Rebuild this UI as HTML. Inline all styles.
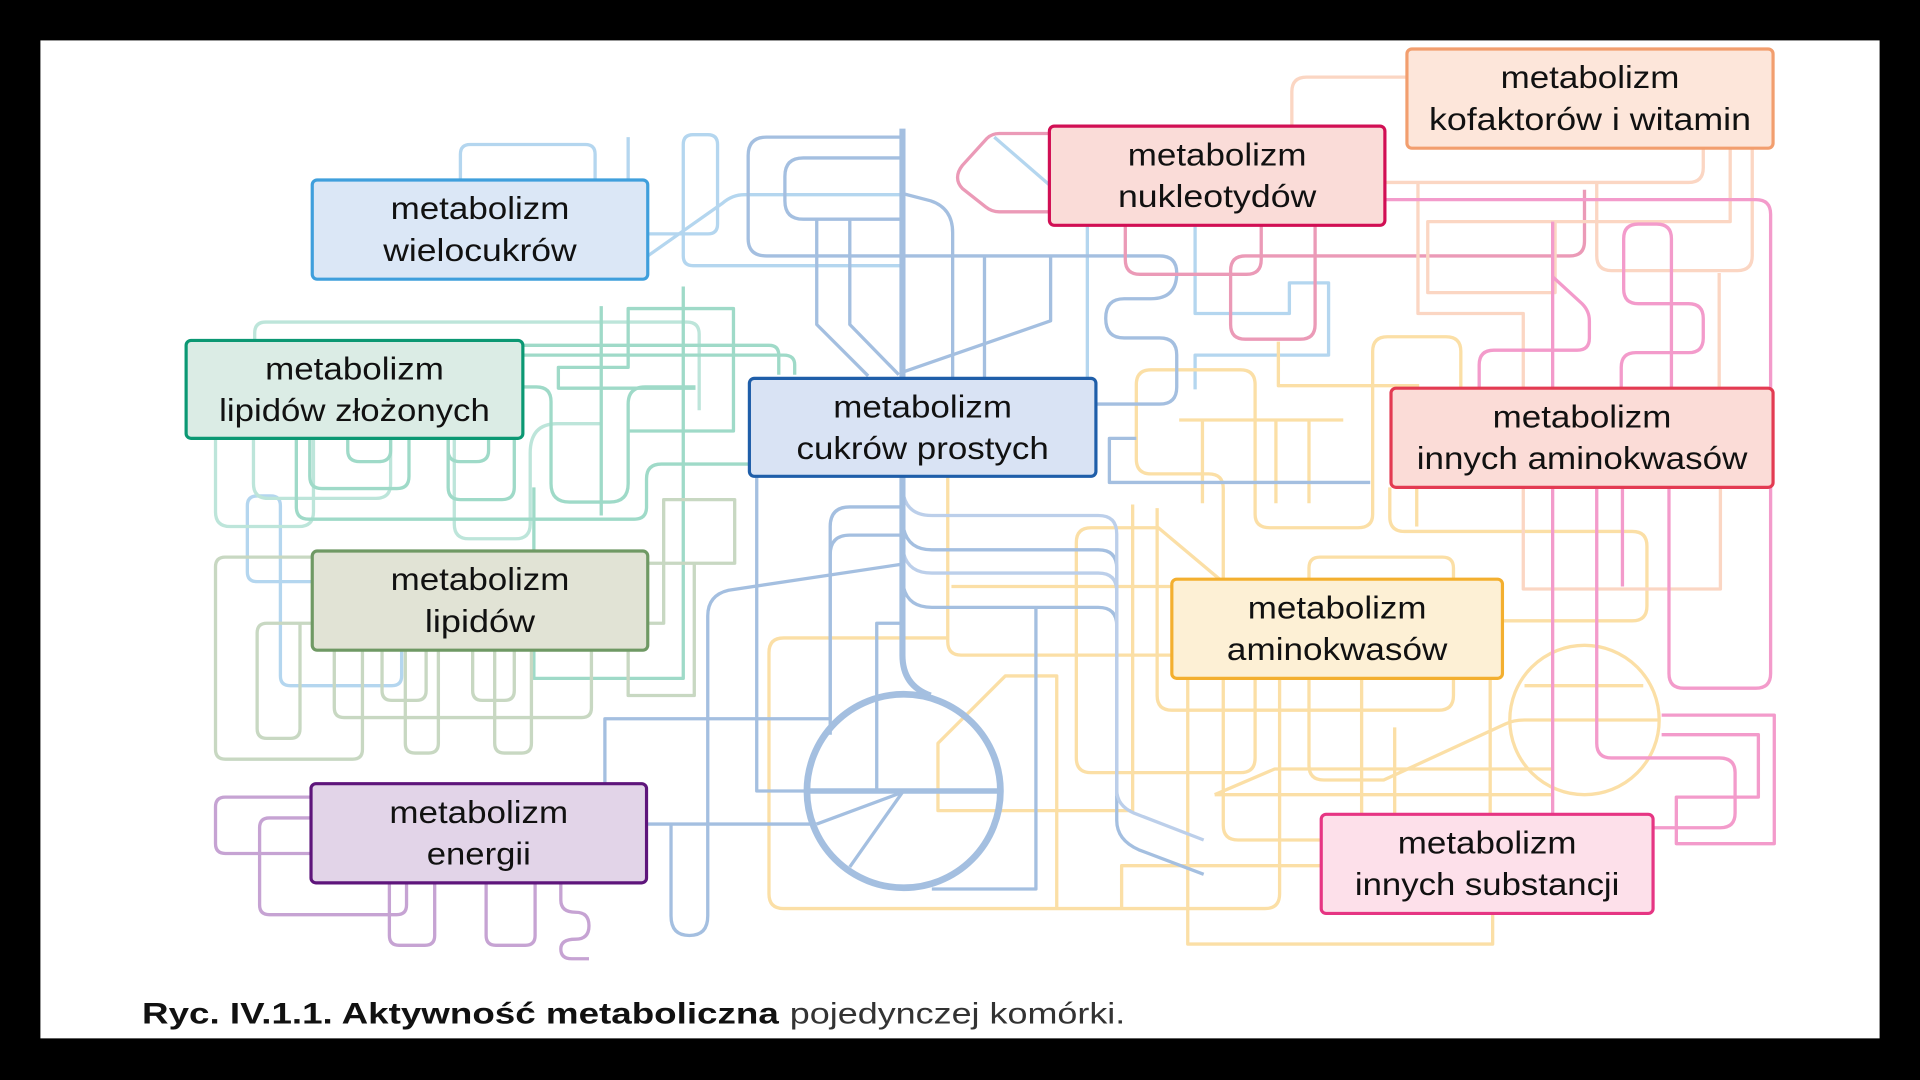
<!DOCTYPE html>
<html>
<head>
<meta charset="utf-8">
<style>
  html, body { margin: 0; padding: 0; background: #000; }
  svg { display: block; }
  .t { font-family: "Liberation Sans", "DejaVu Sans", sans-serif; font-size: 25.5px; fill: #111; }
  .ln { fill: none; stroke-width: 2.7; stroke-linejoin: round; stroke-linecap: butt; }
</style>
</head>
<body>
<svg width="1920" height="1080" viewBox="0 0 1568 882" xmlns="http://www.w3.org/2000/svg">
  <rect x="0" y="0" width="1568" height="882" fill="#000"/>
  <rect x="33" y="33" width="1502" height="815" fill="#fff"/>

  <!-- Light blue (wielocukrow) -->
  <g class="ln" stroke="#b4d6ef">
    <path d="M376,147 V126 Q376,118 384,118 H478 Q486,118 486,126 V147"/>
    <path d="M513,112 V147"/>
    <path d="M529,191 H578 Q586,191 586,183 V118 Q586,110 578,110 H566 Q558,110 558,118 V209 Q558,217 566,217 H737"/>
    <path d="M529,209 L590,166 Q598,159 608,159 H737"/>
    <path d="M812,112 L857,151"/>
    <path d="M888,184 V309"/>
    <path d="M976,184 V256 H1053 V231 H1085 V290 H976 V318"/>
    <path d="M255,475 H210 Q202,475 202,467 V413 Q202,405 210,405 H221 Q229,405 229,413 V552 Q229,560 237,560 H320 Q328,560 328,552 V531"/>
  </g>

  <!-- Teal light (lipidy zlozone) -->
  <g class="ln" stroke="#bde5da">
    <path d="M208,278 V272 Q208,263 217,263 H561 Q571,263 571,273 V335"/>
    <path d="M176,358 V418 Q176,430 188,430 H244 Q256,430 256,418 V358"/>
    <path d="M207,358 V395 Q207,407 219,407 H307 Q319,407 319,395 V358"/>
    <path d="M371,358 V428 Q371,440 383,440 H421 Q433,440 433,428 V370 Q433,346 455,346 H490"/>
  </g>
  <!-- Teal medium -->
  <g class="ln" stroke="#9fdac8">
    <path d="M242,358 V414 Q242,424 252,424 H518 Q528,424 528,414 V391 Q528,379 540,379 H612"/>
    <path d="M253,358 V389 Q253,399 263,399 H324 Q334,399 334,389 V358"/>
    <path d="M284,358 V368 Q284,377 294,377 H309 Q319,377 319,368 V358"/>
    <path d="M366,358 V368 Q366,377 376,377 H389 Q399,377 399,368 V358"/>
    <path d="M366,358 V398 Q366,408 376,408 H410 Q420,408 420,398 V358"/>
    <path d="M427,316 H438 Q450,316 450,328 V395 Q450,410 465,410 H498 Q513,410 513,395 V330 Q513,316 527,316 H568"/>
    <path d="M427,282 H628 Q636,282 636,290 V306"/>
    <path d="M427,290 H640 Q649,290 649,298 V306"/>
    <path d="M491,250 V421"/>
    <path d="M558,234 V554 H436 V398"/>
    <path d="M513,352 H599 V252 H513 V300 H456 V317 H568"/>
  </g>

  <!-- Pale green (lipidy) -->
  <g class="ln" stroke="#c8d8c2">
    <path d="M255,455 H184 Q176,455 176,463 V612 Q176,620 184,620 H288 Q296,620 296,612 V531"/>
    <path d="M255,509 H218 Q210,509 210,517 V595 Q210,603 218,603 H237 Q245,603 245,595 V509"/>
    <path d="M273,531 V578 Q273,586 281,586 H475 Q483,586 483,578 V531"/>
    <path d="M312,531 V564 Q312,572 320,572 H340 Q348,572 348,564 V531"/>
    <path d="M331,531 V607 Q331,615 339,615 H350 Q358,615 358,607 V531"/>
    <path d="M386,531 V564 Q386,572 394,572 H412 Q420,572 420,564 V531"/>
    <path d="M404,531 V607 Q404,615 412,615 H426 Q434,615 434,607 V531"/>
    <path d="M529,460 H600 V408 H542 V509 H529"/>
    <path d="M513,531 V568 H567 V461"/>
  </g>

  <!-- Purple (energia) -->
  <g class="ln" stroke="#c6a3d3">
    <path d="M254,651 H184 Q176,651 176,659 V689 Q176,697 184,697 H254"/>
    <path d="M254,668 H220 Q212,668 212,676 V739 Q212,747 220,747 H324 Q332,747 332,739 V721"/>
    <path d="M318,721 V764 Q318,772 326,772 H347 Q355,772 355,764 V721"/>
    <path d="M397,721 V764 Q397,772 405,772 H429 Q437,772 437,764 V721"/>
    <path d="M458,721 V735 Q458,745 470,745 Q481,745 481,756 Q481,767 470,767 Q458,767 458,775 Q458,783 467,783 H481"/>
  </g>

  <!-- Yellow (aminokwasy) -->
  <g class="ln" stroke="#fbdfa6">
    <path d="M774,521 H640 Q628,521 628,533 V730 Q628,742 640,742 H1033 Q1045,742 1045,730 V554"/>
    <path d="M774,389 V524 Q774,535 785,535 H957"/>
    <path d="M777,479 H957"/>
    <path d="M863,742 V552 H821 L766,607 V662 H926"/>
    <path d="M916,742 V707 H1079"/>
    <path d="M996,473 L946,431 H891 Q879,431 879,443 V619 Q879,631 891,631 H1013 Q1025,631 1025,619 V554"/>
    <path d="M925,412 V663"/>
    <path d="M945,415 V568 Q945,580 957,580 H1175 Q1187,580 1187,568 V554"/>
    <path d="M970,554 V771 H1219 V746"/>
    <path d="M999,554 V674 Q999,686 1011,686 H1079"/>
    <path d="M1069,473 V464 Q1069,455 1078,455 H1178 Q1187,455 1187,464 V473"/>
    <path d="M1069,554 V625 Q1069,637 1081,637 H1130 L1230,591 Q1236,588 1245,588 H1355"/>
    <path d="M992,649 L1041,628 H1269"/>
    <path d="M992,649 H1269"/>
    <circle cx="1294" cy="588" r="61"/>
    <path d="M1245,560 H1342"/>
    <path d="M1112,554 V665"/>
    <path d="M1139,594 V665"/>
    <path d="M1217,554 V665"/>
    <path d="M1227,507 H1333 Q1345,507 1345,495 V446 Q1345,434 1333,434 H1147 Q1135,434 1135,422 V398"/>
    <path d="M1157,398 V430"/>
    <path d="M999,473 V399 Q999,387 987,387 H940 Q928,387 928,375 V314 Q928,302 940,302 H1013 Q1025,302 1025,314 V420 Q1025,431 1037,431 H1109 Q1121,431 1121,420 V287 Q1121,275 1133,275 H1181 Q1193,275 1193,287 V317"/>
    <path d="M1044,279 V315 H1159"/>
    <path d="M963,343 H1097"/>
    <path d="M982,343 V411"/>
    <path d="M1042,343 V411"/>
    <path d="M1069,343 V411"/>
  </g>

  <!-- Blue (cukry proste) -->
  <g class="ln" stroke="#a4bfe0">
    <path d="M737,112 H626 Q611,112 611,127 V195 Q611,209 626,209 H947 Q961,209 961,223 Q961,244 940,244 H918 Q903,244 903,260 Q903,276 918,276 H947 Q961,276 961,290 V316 Q961,330 947,330 H895"/>
    <path d="M737,129 H656 Q641,129 641,144 V164 Q641,179 656,179 H737"/>
    <path d="M667,179 V265 L709,307"/>
    <path d="M694,179 V265 L734,306"/>
    <path d="M737,158 L760,164 Q778,170 778,190 V309"/>
    <path d="M737,304 L858,262 V209"/>
    <path d="M804,209 V309"/>
    <path d="M928,358 H906 V394 H1119"/>
    <path d="M738,414 H694 Q678,414 678,430 V587 H494 V640"/>
    <path d="M738,437 H694 Q678,437 678,453 V600"/>
    <path d="M735,461 L595,482 Q578,486 578,503 V748 Q578,764 563,764 Q548,764 548,748 V673"/>
    <path d="M528,673 H667"/>
    <path d="M618,389 V646 H659"/>
    <path d="M738,509 H716 V646"/>
    <path d="M846,496 V726 H761"/>
    <path d="M738,432 Q742,449 761,449 H897 Q912,449 912,464 V650"/>
    <path d="M738,480 Q742,496 761,496 H897 Q912,496 912,511 V670 Q912,686 930,694 L983,714"/>
    <path d="M737,647 L667,673"/>
    <path d="M737,647 L694,708"/>
  </g>
  <g class="ln" stroke="#bccfea">
    <path d="M738,405 Q742,421 761,421 H897 Q912,421 912,436 V645 Q912,658 926,664 L983,686"/>
    <path d="M738,452 Q742,468 761,468 H897 Q912,468 912,483 V650"/>
  </g>
  <g fill="none" stroke="#a4bfe0">
    <path d="M737,105 V309" stroke-width="5"/>
    <path d="M737,389 V535 Q737,560 760,568" stroke-width="5"/>
    <circle cx="738" cy="646" r="79" stroke-width="5.5"/>
    <path d="M659,646 H816" stroke-width="4.5"/>
  </g>

  <!-- Pink (nukleotydy) -->
  <g class="ln" stroke="#eb9ab7">
    <path d="M857,109 H816 Q810,109 806,113 L786,135 Q782,140 782,145 Q782,150 786,154 L805,169 Q810,173 816,173 H857"/>
    <path d="M919,184 V212 Q919,224 931,224 H1018 Q1030,224 1030,212 V184"/>
    <path d="M1074,184 V265 Q1074,277 1062,277 H1017 Q1005,277 1005,265 V221 Q1005,209 1017,209 H1282 Q1294,209 1294,197 V155"/>
  </g>

  <!-- Peach (kofaktory) -->
  <g class="ln" stroke="#fbd6c3">
    <path d="M1149,63 H1067 Q1055,63 1055,75 V103"/>
    <path d="M1391,121 V137 Q1391,149 1379,149 H1131"/>
    <path d="M1413,121 V181 H1166 V239 H1270 V181"/>
    <path d="M1431,121 V209 Q1431,221 1419,221 H1316 Q1304,221 1304,209 V150"/>
    <path d="M1158,150 V256 H1244 V317"/>
    <path d="M1404,223 V317"/>
    <path d="M1244,398 V481 H1405 V398"/>
  </g>

  <!-- Pink (inne aminokwasy / substancje) -->
  <g class="ln" stroke="#f39bcb">
    <path d="M1131,163 H1434 Q1446,163 1446,175 V550 Q1446,562 1434,562 H1375 Q1363,562 1363,550 V398"/>
    <path d="M1365,317 V195 Q1365,183 1353,183 H1338 Q1326,183 1326,195 V236 Q1326,248 1338,248 H1379 Q1391,248 1391,260 V276 Q1391,288 1379,288 H1336 Q1324,288 1324,300 V317"/>
    <path d="M1268,181 V665"/>
    <path d="M1268,226 L1292,248 Q1298,254 1298,262 V276 Q1298,286 1288,286 H1220 Q1208,286 1208,298 V317"/>
    <path d="M1304,398 V607 Q1304,619 1316,619 H1404 Q1417,619 1417,631 V664 Q1417,676 1405,676 H1350"/>
    <path d="M1325,398 V479"/>
    <path d="M1357,584 H1449 V689 H1369 V651 H1436 V600 H1357"/>
  </g>

  <!-- Boxes -->
  <g stroke-width="2.6">
    <rect x="255" y="147" width="274" height="81" rx="4" fill="#dbe7f6" stroke="#3f9fdc"/>
    <rect x="152" y="278" width="275" height="80" rx="4" fill="#dbece5" stroke="#0b9873"/>
    <rect x="255" y="450" width="274" height="81" rx="4" fill="#e1e3d5" stroke="#6f9964"/>
    <rect x="254" y="640" width="274" height="81" rx="4" fill="#e2d4e8" stroke="#5e157b"/>
    <rect x="612" y="309" width="283" height="80" rx="4" fill="#d9e3f4" stroke="#1f5ea9"/>
    <rect x="857" y="103" width="274" height="81" rx="4" fill="#fadcd8" stroke="#d10f54"/>
    <rect x="1149" y="40" width="299" height="81" rx="4" fill="#fde6da" stroke="#f29e6e"/>
    <rect x="1136" y="317" width="312" height="81" rx="4" fill="#fbdcd7" stroke="#e33b52"/>
    <rect x="957" y="473" width="270" height="81" rx="4" fill="#fdf0d5" stroke="#f3af2f"/>
    <rect x="1079" y="665" width="271" height="81" rx="4" fill="#fde0ea" stroke="#e63583"/>
  </g>

  <!-- Labels -->
  <g class="t" text-anchor="middle">
    <text x="392" y="179" textLength="146" lengthAdjust="spacingAndGlyphs">metabolizm</text>
    <text x="392" y="213" textLength="158" lengthAdjust="spacingAndGlyphs">wielocukrów</text>

    <text x="289.5" y="310" textLength="146" lengthAdjust="spacingAndGlyphs">metabolizm</text>
    <text x="289.5" y="344" textLength="221" lengthAdjust="spacingAndGlyphs">lipidów złożonych</text>

    <text x="392" y="482" textLength="146" lengthAdjust="spacingAndGlyphs">metabolizm</text>
    <text x="392" y="516" textLength="90" lengthAdjust="spacingAndGlyphs">lipidów</text>

    <text x="391" y="672" textLength="146" lengthAdjust="spacingAndGlyphs">metabolizm</text>
    <text x="391" y="706" textLength="85" lengthAdjust="spacingAndGlyphs">energii</text>

    <text x="753.5" y="341" textLength="146" lengthAdjust="spacingAndGlyphs">metabolizm</text>
    <text x="753.5" y="375" textLength="206" lengthAdjust="spacingAndGlyphs">cukrów prostych</text>

    <text x="994" y="135" textLength="146" lengthAdjust="spacingAndGlyphs">metabolizm</text>
    <text x="994" y="169" textLength="162" lengthAdjust="spacingAndGlyphs">nukleotydów</text>

    <text x="1298.5" y="72" textLength="146" lengthAdjust="spacingAndGlyphs">metabolizm</text>
    <text x="1298.5" y="106" textLength="263" lengthAdjust="spacingAndGlyphs">kofaktorów i witamin</text>

    <text x="1292" y="349" textLength="146" lengthAdjust="spacingAndGlyphs">metabolizm</text>
    <text x="1292" y="383" textLength="270" lengthAdjust="spacingAndGlyphs">innych aminokwasów</text>

    <text x="1092" y="505" textLength="146" lengthAdjust="spacingAndGlyphs">metabolizm</text>
    <text x="1092" y="539" textLength="180" lengthAdjust="spacingAndGlyphs">aminokwasów</text>

    <text x="1214.5" y="697" textLength="146" lengthAdjust="spacingAndGlyphs">metabolizm</text>
    <text x="1214.5" y="731" textLength="216" lengthAdjust="spacingAndGlyphs">innych substancji</text>
  </g>

  <!-- Caption -->
  <text x="116" y="836" font-family="Liberation Sans, sans-serif" font-size="24" font-weight="bold" fill="#111" textLength="520" lengthAdjust="spacingAndGlyphs">Ryc. IV.1.1. Aktywność metaboliczna</text>
  <text x="645" y="836" font-family="Liberation Sans, sans-serif" font-size="24" fill="#333" textLength="274" lengthAdjust="spacingAndGlyphs">pojedynczej komórki.</text>
</svg>
</body>
</html>
